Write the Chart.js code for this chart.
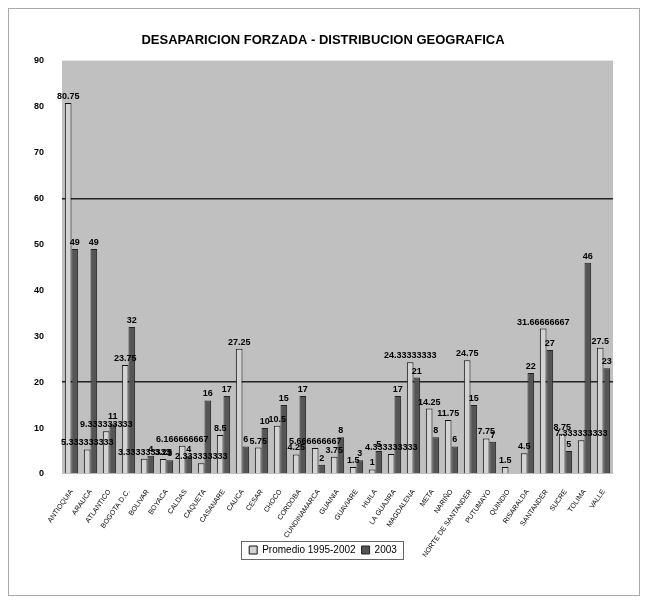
<!DOCTYPE html>
<html>
<head>
<meta charset="utf-8">
<script src="https://cdn.jsdelivr.net/npm/chart.js@4.4.1/dist/chart.umd.min.js"></script>
<style>
  body { margin: 0; background: #fff; }
  #wrap { position: relative; width: 646px; height: 602px; }
  #frame { position: absolute; left: 8px; top: 8px; width: 630px; height: 586px; border: 1px solid #aaa; pointer-events: none; }
</style>
</head>
<body>
<div id="wrap">
  <canvas id="chart" width="646" height="602"></canvas>
  <div id="frame"></div>
</div>
<script>
// Departments on the x axis
const departamentos = [
  "ANTIOQUIA", "ARAUCA", "ATLANTICO", "BOGOTA D.C.", "BOLIVAR", "BOYACA", "CALDAS",
  "CAQUETA", "CASANARE", "CAUCA", "CESAR", "CHOCO", "CORDOBA", "CUNDINAMARCA",
  "GUAINIA", "GUAVIARE", "HUILA", "LA GUAJIRA", "MAGDALENA", "META", "NARIÑO",
  "NORTE DE SANTANDER", "PUTUMAYO", "QUINDIO", "RISARALDA", "SANTANDER", "SUCRE",
  "TOLIMA", "VALLE"
];

// Series values
const promedio = [
  80.75, 5.333333333, 9.333333333, 23.75, 3.333333333, 3.25, 6.166666667, 2.333333333,
  8.5, 27.25, 5.75, 10.5, 4.25, 5.666666667, 3.75, 1.5, 1, 4.333333333, 24.33333333,
  14.25, 11.75, 24.75, 7.75, 1.5, 4.5, 31.66666667, 8.75, 7.333333333, 27.5
];
const anio2003 = [
  49, 49, 11, 32, 4, 3, 4, 16, 17, 6, 10, 15, 17, 2, 8, 3, 5, 17, 21, 8, 6, 15, 7, 0,
  22, 27, 5, 46, 23
];

// y axis ticks and the two ruled lines
const yMax = 90;
const yStep = 10;
const ruledLines = [20, 60];

Chart.defaults.font.family = '"Liberation Sans", Arial, sans-serif';
Chart.defaults.color = "#000";

// grey plot area
const plotBackground = {
  id: "plotBackground",
  beforeDraw(chart) {
    const { ctx, chartArea } = chart;
    ctx.save();
    ctx.fillStyle = "#c0c0c0";
    ctx.fillRect(chartArea.left, chartArea.top, chartArea.right - chartArea.left, chartArea.bottom - chartArea.top);
    ctx.restore();
  },
};

// Excel style value labels over each bar
function fmtValue(v) {
  return String(parseFloat(v.toPrecision(10)));
}
const barLabels = {
  id: "barLabels",
  afterDatasetsDraw(chart) {
    const ctx = chart.ctx;
    ctx.save();
    ctx.font = 'bold 9px "Liberation Sans", Arial, sans-serif';
    ctx.fillStyle = "#000";
    ctx.textAlign = "center";
    ctx.textBaseline = "bottom";
    chart.data.datasets.forEach((ds, i) => {
      chart.getDatasetMeta(i).data.forEach((bar, j) => {
        const v = ds.data[j];
        if (!v) return;
        ctx.fillText(fmtValue(v), bar.x, bar.y - 2);
      });
    });
    ctx.restore();
  },
};

// the legend sits over the long rotated labels, as in the original sheet
const legendShift = 37;
const legendPlacement = {
  id: "legendPlacement",
  afterLayout(chart) {
    chart.legend.top -= legendShift;
    chart.legend.bottom -= legendShift;
  },
};

// thin frame around the legend
const legendFrame = {
  id: "legendFrame",
  afterDraw(chart) {
    const boxes = chart.legend.legendHitBoxes;
    if (!boxes || !boxes.length) return;
    const left = Math.min(...boxes.map((b) => b.left)) - 8;
    const right = Math.max(...boxes.map((b) => b.left + b.width)) + 6;
    const top = Math.min(...boxes.map((b) => b.top)) - 4;
    const bottom = Math.max(...boxes.map((b) => b.top + b.height)) + 4;
    const ctx = chart.ctx;
    ctx.save();
    ctx.strokeStyle = "#666";
    ctx.lineWidth = 1;
    ctx.strokeRect(Math.round(left) + 0.5, Math.round(top) + 0.5, Math.round(right - left), Math.round(bottom - top));
    ctx.restore();
  },
};

const ctx = document.getElementById("chart").getContext("2d");
new Chart(ctx, {
  type: "bar",
  data: {
    labels: departamentos,
    datasets: [
      {
        label: "Promedio 1995-2002",
        data: promedio,
        backgroundColor: "#d2d2d2",
        borderColor: "#111",
        borderWidth: 1,
        categoryPercentage: 0.7,
        barPercentage: 1,
      },
      {
        label: "2003",
        data: anio2003,
        backgroundColor: "#555",
        borderColor: "#222",
        borderWidth: 1,
        categoryPercentage: 0.7,
        barPercentage: 1,
      },
    ],
  },
  options: {
    responsive: false,
    animation: false,
    devicePixelRatio: 1,
    layout: { padding: { left: 33, right: 33, top: 33, bottom: 0 } },
    plugins: {
      title: {
        display: true,
        text: "DESAPARICION FORZADA - DISTRIBUCION GEOGRAFICA",
        font: { size: 13, weight: "bold" },
        color: "#000",
        padding: { top: 0, bottom: 12 },
      },
      legend: {
        position: "bottom",
        labels: {
          font: { size: 10 },
          boxWidth: 8,
          boxHeight: 8,
          padding: 6,
          color: "#000",
        },
      },
      tooltip: { enabled: false },
    },
    scales: {
      x: {
        grid: { display: false },
        border: { display: false },
        ticks: {
          autoSkip: false,
          minRotation: 55,
          maxRotation: 55,
          padding: 6,
          font: { size: 7 },
          color: "#000",
        },
        afterFit(scale) {
          scale.height = 102;
        },
      },
      y: {
        min: 0,
        max: yMax,
        border: { display: false },
        grid: {
          drawTicks: false,
          lineWidth: 1.5,
          color: (c) => (ruledLines.includes(c.tick && c.tick.value) ? "#222" : "rgba(0,0,0,0)"),
        },
        ticks: {
          stepSize: yStep,
          padding: 18,
          font: { size: 9, weight: "bold" },
          color: "#000",
        },
        afterFit(scale) {
          scale.width = 29;
        },
      },
    },
  },
  plugins: [plotBackground, barLabels, legendPlacement, legendFrame],
});
</script>
</body>
</html>
